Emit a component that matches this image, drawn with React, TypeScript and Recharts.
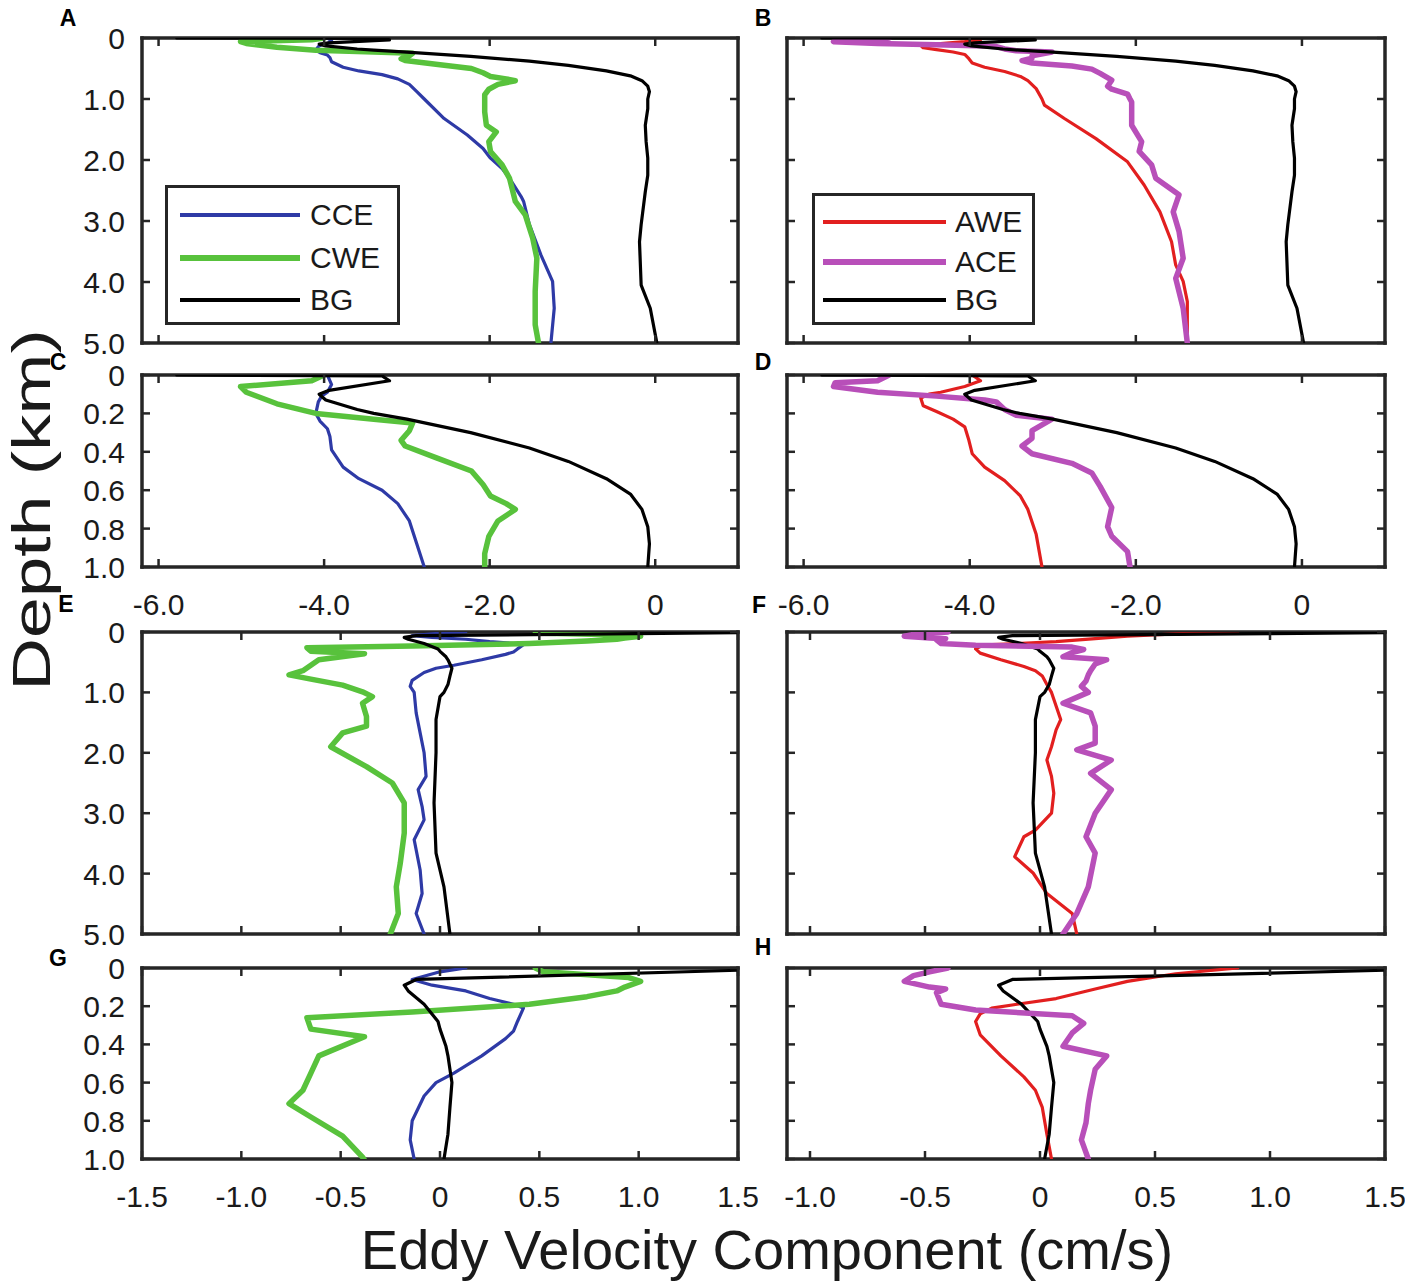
import { ScatterChart, Scatter, XAxis, YAxis } from "recharts";

const FONT = '"Liberation Sans", Arial, Helvetica, sans-serif';
const FRAME = "#262626";
const TEXT = "#1a1a1a";

// colours of the eddy classes
const BLUE = "#2e3aa6";
const GREEN = "#58c23c";
const RED = "#e21f1f";
const MAGENTA = "#b84fb9";
const BLACK = "#000000";

// axis ticks
const WIDE_X_DOMAIN = [-6.2, 1];
const WIDE_X_TICKS = [-6, -4, -2, 0];
const LEFT_X_DOMAIN = [-1.5, 1.5];
const LEFT_X_TICKS = [-1.5, -1, -0.5, 0, 0.5, 1, 1.5];
const RIGHT_X_DOMAIN = [-1.1, 1.5];
const RIGHT_X_TICKS = [-1, -0.5, 0, 0.5, 1, 1.5];
const DEEP_Y_TICKS = [0, 1, 2, 3, 4, 5];
const SHALLOW_Y_TICKS = [0, 0.2, 0.4, 0.6, 0.8, 1];

// ---- profiles used by panels A-D (depth in km, velocity in cm/s) ----
const cceTopDepth = [0, 0.05, 0.09, 0.11, 0.14, 0.2, 0.24, 0.28, 0.32, 0.39, 0.48, 0.54, 0.6, 0.67, 0.76, 0.88, 1.0, 1.32, 1.59, 1.81, 1.97, 2.14, 2.3, 2.6, 2.68, 3.06, 3.56, 3.99, 4.43, 5.0];
const cceTopVel = [-3.96, -3.91, -3.96, -4.03, -4.07, -4.1, -4.05, -3.96, -3.93, -3.91, -3.77, -3.58, -3.3, -3.11, -2.97, -2.88, -2.79, -2.55, -2.27, -2.08, -1.99, -1.85, -1.76, -1.62, -1.59, -1.52, -1.38, -1.24, -1.22, -1.26];

const cweTopDepth = [0, 0.03, 0.06, 0.09, 0.15, 0.2, 0.23, 0.25, 0.29, 0.34, 0.37, 0.43, 0.5, 0.57, 0.63, 0.67, 0.7, 0.76, 0.84, 0.93, 1.0, 1.21, 1.43, 1.54, 1.7, 1.86, 2.08, 2.3, 2.68, 2.9, 3.28, 3.61, 4.15, 4.7, 5.0];
const cweTopVel = [-4.0, -4.15, -5.01, -4.94, -4.57, -4.1, -3.4, -2.93, -2.97, -3.07, -3.02, -2.65, -2.22, -2.08, -1.99, -1.8, -1.69, -1.9, -2.01, -2.06, -2.06, -2.06, -2.04, -1.92, -2.01, -1.99, -1.85, -1.76, -1.69, -1.57, -1.48, -1.43, -1.45, -1.45, -1.41];

const bgTopDepth = [0, 0.005, 0.03, 0.08, 0.1, 0.13, 0.18, 0.2, 0.23, 0.3, 0.38, 0.45, 0.54, 0.62, 0.7, 0.79, 0.88, 1.0, 1.16, 1.43, 1.7, 1.97, 2.25, 2.52, 3.06, 3.34, 4.05, 4.43, 5.0];
const bgTopVel = [-5.78, -3.3, -3.21, -3.94, -4.06, -3.98, -3.6, -3.4, -3.0, -2.23, -1.52, -1.05, -0.59, -0.3, -0.16, -0.09, -0.07, -0.09, -0.09, -0.12, -0.11, -0.09, -0.09, -0.12, -0.17, -0.19, -0.17, -0.06, 0.02];

const aweTopDepth = [0, 0.03, 0.06, 0.09, 0.1, 0.12, 0.16, 0.19, 0.23, 0.27, 0.34, 0.41, 0.48, 0.55, 0.63, 0.7, 0.83, 1.0, 1.1, 1.32, 1.65, 2.03, 2.41, 2.85, 3.34, 3.72, 3.99, 4.32, 5.0];
const aweTopVel = [-3.97, -3.87, -4.06, -4.35, -4.49, -4.59, -4.56, -4.4, -4.2, -4.06, -4.01, -3.97, -3.82, -3.58, -3.39, -3.3, -3.2, -3.13, -3.1, -2.86, -2.48, -2.1, -1.9, -1.71, -1.57, -1.52, -1.43, -1.38, -1.38];

const aceTopDepth = [0, 0.03, 0.04, 0.06, 0.09, 0.11, 0.13, 0.14, 0.18, 0.21, 0.23, 0.29, 0.33, 0.37, 0.41, 0.46, 0.51, 0.58, 0.69, 0.79, 0.84, 0.92, 1.0, 1.05, 1.43, 1.7, 1.86, 2.08, 2.3, 2.57, 2.85, 3.17, 3.61, 3.94, 4.43, 5.0];
const aceTopVel = [-4.97, -5.11, -5.62, -5.64, -5.11, -4.4, -3.82, -3.68, -3.58, -3.44, -3.01, -3.25, -3.25, -3.37, -3.25, -2.77, -2.53, -2.43, -2.29, -2.34, -2.29, -2.1, -2.07, -2.05, -2.05, -1.93, -1.96, -1.81, -1.76, -1.48, -1.55, -1.48, -1.43, -1.52, -1.43, -1.38];

// ---- profiles used by panels E-H ----
const cceBotDepth = [0, 0.02, 0.06, 0.09, 0.12, 0.16, 0.19, 0.21, 0.28, 0.33, 0.37, 0.46, 0.55, 0.6, 0.67, 0.8, 0.9, 1.0, 1.34, 1.67, 2.0, 2.39, 2.61, 2.89, 3.11, 3.44, 3.94, 4.33, 4.66, 5.0];
const cceBotVel = [0.13, 0.0, -0.14, -0.04, 0.13, 0.25, 0.37, 0.42, 0.39, 0.37, 0.33, 0.21, 0.07, -0.02, -0.08, -0.14, -0.15, -0.13, -0.12, -0.1, -0.08, -0.07, -0.11, -0.09, -0.08, -0.13, -0.1, -0.09, -0.12, -0.08];

const cweBotDepth = [0, 0.02, 0.05, 0.07, 0.1, 0.12, 0.15, 0.19, 0.23, 0.26, 0.32, 0.36, 0.46, 0.55, 0.64, 0.71, 0.78, 0.88, 0.99, 1.07, 1.18, 1.4, 1.56, 1.67, 1.9, 2.23, 2.5, 2.83, 3.33, 3.83, 4.22, 4.66, 5.0];
const cweBotVel = [0.48, 0.52, 0.95, 1.01, 0.93, 0.89, 0.74, 0.45, -0.14, -0.67, -0.65, -0.38, -0.61, -0.65, -0.69, -0.76, -0.65, -0.49, -0.39, -0.34, -0.39, -0.37, -0.37, -0.49, -0.55, -0.37, -0.24, -0.18, -0.18, -0.2, -0.22, -0.21, -0.25];

const bgBotDepth = [0, 0.06, 0.09, 0.12, 0.19, 0.28, 0.32, 0.41, 0.46, 0.53, 0.6, 0.73, 0.87, 1.0, 1.07, 1.45, 2.0, 2.83, 3.66, 4.22, 5.0];
const bgBotVel = [1.9, -0.12, -0.18, -0.16, -0.08, -0.01, 0.0, 0.03, 0.04, 0.05, 0.06, 0.05, 0.04, 0.02, 0.0, -0.02, -0.02, -0.03, -0.02, 0.02, 0.05];

const aweBotDepth = [0, 0.03, 0.07, 0.11, 0.16, 0.19, 0.21, 0.24, 0.28, 0.35, 0.46, 0.57, 0.64, 0.73, 0.87, 1.0, 1.45, 1.62, 1.9, 2.12, 2.39, 2.67, 3.0, 3.28, 3.39, 3.72, 3.99, 4.33, 4.66, 5.0];
const aweBotVel = [0.86, 0.59, 0.38, 0.24, 0.07, -0.1, -0.21, -0.26, -0.28, -0.26, -0.17, -0.07, -0.02, 0.01, 0.03, 0.05, 0.09, 0.07, 0.05, 0.03, 0.05, 0.06, 0.05, -0.02, -0.07, -0.11, -0.03, 0.03, 0.14, 0.16];

const aceBotDepth = [0, 0.02, 0.04, 0.07, 0.1, 0.11, 0.13, 0.19, 0.22, 0.25, 0.29, 0.34, 0.41, 0.46, 0.53, 0.64, 0.71, 0.81, 0.9, 1.0, 1.18, 1.34, 1.56, 1.84, 1.95, 2.12, 2.34, 2.61, 3.0, 3.39, 3.66, 4.22, 4.66, 5.0];
const aceBotVel = [-0.4, -0.48, -0.55, -0.59, -0.48, -0.41, -0.45, -0.43, -0.28, 0.14, 0.19, 0.14, 0.1, 0.29, 0.24, 0.22, 0.21, 0.2, 0.18, 0.21, 0.1, 0.22, 0.24, 0.24, 0.16, 0.31, 0.22, 0.31, 0.24, 0.2, 0.24, 0.21, 0.16, 0.1];

type Series = { name: string; color: string; width: number; depth: number[]; vel: number[] };

const cyclonicTop: Series[] = [
  { name: "CCE", color: BLUE, width: 3.2, depth: cceTopDepth, vel: cceTopVel },
  { name: "CWE", color: GREEN, width: 5.5, depth: cweTopDepth, vel: cweTopVel },
  { name: "BG", color: BLACK, width: 3.2, depth: bgTopDepth, vel: bgTopVel },
];
const anticycTop: Series[] = [
  { name: "AWE", color: RED, width: 3.2, depth: aweTopDepth, vel: aweTopVel },
  { name: "ACE", color: MAGENTA, width: 5.5, depth: aceTopDepth, vel: aceTopVel },
  { name: "BG", color: BLACK, width: 3.2, depth: bgTopDepth, vel: bgTopVel },
];
const cyclonicBot: Series[] = [
  { name: "CCE", color: BLUE, width: 3.2, depth: cceBotDepth, vel: cceBotVel },
  { name: "CWE", color: GREEN, width: 5.5, depth: cweBotDepth, vel: cweBotVel },
  { name: "BG", color: BLACK, width: 3.2, depth: bgBotDepth, vel: bgBotVel },
];
const anticycBot: Series[] = [
  { name: "AWE", color: RED, width: 3.2, depth: aweBotDepth, vel: aweBotVel },
  { name: "BG", color: BLACK, width: 3.2, depth: bgBotDepth, vel: bgBotVel },
  { name: "ACE", color: MAGENTA, width: 5.5, depth: aceBotDepth, vel: aceBotVel },
];

const fmt = (v: number) => (v === 0 ? "0" : v.toFixed(1));
const toPoints = (s: Series) => s.depth.map((d, i) => ({ d, v: s.vel[i] }));

// space around each plot box, the axes themselves take 1px
const PAD = { left: 120, right: 20, top: 20, bottom: 70 };
const axisLine = { stroke: FRAME, strokeWidth: 3.5, strokeLinecap: "square" as const };

function XTick(props: any) {
  const { x, y, payload, label, top } = props;
  const dir = top ? 1 : -1;
  return (
    <g>
      <line x1={x} x2={x} y1={y} y2={y + dir * 8} stroke={FRAME} strokeWidth={2.5} />
      {label && (
        <text x={x} y={y + 48} textAnchor="middle" fontSize={30} fontFamily={FONT} fill={TEXT}>
          {fmt(payload.value)}
        </text>
      )}
    </g>
  );
}

function YTick(props: any) {
  const { x, y, payload, label, right } = props;
  const dir = right ? -1 : 1;
  return (
    <g>
      <line x1={x} x2={x + dir * 8} y1={y} y2={y} stroke={FRAME} strokeWidth={2.5} />
      {label && (
        <text x={x - 17} y={y + 11} textAnchor="end" fontSize={30} fontFamily={FONT} fill={TEXT}>
          {fmt(payload.value)}
        </text>
      )}
    </g>
  );
}

type Box = { left: number; top: number; w: number; h: number };

function Legend({ series, box }: { series: Series[]; box: any }) {
  return (
    <div
      style={{
        position: "absolute",
        left: box.left,
        top: box.top,
        width: box.w,
        height: box.h,
        border: `3px solid ${FRAME}`,
        background: "#fff",
        boxSizing: "border-box",
      }}
    >
      {series.map((s, i) => (
        <div key={s.name} style={{ position: "absolute", left: 0, top: box.rows[i], width: "100%" }}>
          <div
            style={{
              position: "absolute",
              left: box.lineLeft,
              width: box.lineW,
              top: -(s.width + 1) / 2,
              height: s.width + 1,
              background: s.color,
            }}
          />
          <div
            style={{
              position: "absolute",
              left: box.textLeft,
              top: -18,
              fontSize: 30,
              lineHeight: "36px",
              fontFamily: FONT,
              color: TEXT,
            }}
          >
            {s.name}
          </div>
        </div>
      ))}
    </div>
  );
}

function Panel({
  box,
  xDomain,
  xTicks,
  yDomain,
  yTicks,
  series,
  xLabels,
  yLabels,
}: {
  box: Box;
  xDomain: number[];
  xTicks: number[];
  yDomain: number[];
  yTicks: number[];
  series: Series[];
  xLabels: boolean;
  yLabels: boolean;
}) {
  const width = box.w + PAD.left + PAD.right;
  const height = box.h + PAD.top + PAD.bottom;
  const margin = { left: PAD.left - 1, right: PAD.right - 1, top: PAD.top - 1, bottom: PAD.bottom - 1 };
  return (
    <div style={{ position: "absolute", left: box.left - PAD.left, top: box.top - PAD.top }}>
      <ScatterChart width={width} height={height} margin={margin}>
        {series.map((s) => (
          <Scatter
            key={s.name}
            name={s.name}
            data={toPoints(s)}
            xAxisId="b"
            yAxisId="l"
            fill={s.color}
            line={{ stroke: s.color, strokeWidth: s.width, strokeLinejoin: "round", strokeLinecap: "round" }}
            shape={() => <g />}
            isAnimationActive={false}
          />
        ))}
        <XAxis
          xAxisId="b"
          type="number"
          dataKey="v"
          orientation="bottom"
          domain={xDomain}
          ticks={xTicks}
          allowDataOverflow
          height={1}
          tickSize={0}
          tickMargin={0}
          tickLine={false}
          interval={0}
          axisLine={axisLine}
          tick={(p: any) => <XTick {...p} label={xLabels} />}
        />
        <XAxis
          xAxisId="t"
          type="number"
          dataKey="v"
          orientation="top"
          domain={xDomain}
          ticks={xTicks}
          allowDataOverflow
          height={1}
          tickSize={0}
          tickMargin={0}
          tickLine={false}
          interval={0}
          axisLine={axisLine}
          tick={(p: any) => <XTick {...p} top />}
        />
        <YAxis
          yAxisId="l"
          type="number"
          dataKey="d"
          orientation="left"
          reversed
          domain={yDomain}
          ticks={yTicks}
          allowDataOverflow
          width={1}
          tickSize={0}
          tickMargin={0}
          tickLine={false}
          interval={0}
          axisLine={axisLine}
          tick={(p: any) => <YTick {...p} label={yLabels} />}
        />
        <YAxis
          yAxisId="r"
          type="number"
          dataKey="d"
          orientation="right"
          reversed
          domain={yDomain}
          ticks={yTicks}
          allowDataOverflow
          width={1}
          tickSize={0}
          tickMargin={0}
          tickLine={false}
          interval={0}
          axisLine={axisLine}
          tick={(p: any) => <YTick {...p} right />}
        />
      </ScatterChart>
    </div>
  );
}

const LETTERS = [
  { t: "A", x: 68, y: 18 },
  { t: "B", x: 763, y: 18 },
  { t: "C", x: 58, y: 362 },
  { t: "D", x: 763, y: 362 },
  { t: "E", x: 66, y: 604 },
  { t: "F", x: 759, y: 605 },
  { t: "G", x: 58, y: 958 },
  { t: "H", x: 763, y: 947 },
];

export default function App() {
  const L = { left: 142, w: 596 };
  const R = { left: 787, w: 598 };
  return (
    <div
      style={{
        position: "absolute",
        left: 0,
        top: 0,
        width: 1412,
        height: 1283,
        background: "#fff",
        overflow: "hidden",
        fontFamily: FONT,
      }}
    >
      <Panel box={{ ...L, top: 38, h: 305 }} xDomain={WIDE_X_DOMAIN} xTicks={WIDE_X_TICKS} yDomain={[0, 5]} yTicks={DEEP_Y_TICKS} series={cyclonicTop} xLabels={false} yLabels />
      <Panel box={{ ...R, top: 38, h: 305 }} xDomain={WIDE_X_DOMAIN} xTicks={WIDE_X_TICKS} yDomain={[0, 5]} yTicks={DEEP_Y_TICKS} series={anticycTop} xLabels={false} yLabels={false} />
      <Panel box={{ ...L, top: 375, h: 192 }} xDomain={WIDE_X_DOMAIN} xTicks={WIDE_X_TICKS} yDomain={[0, 1]} yTicks={SHALLOW_Y_TICKS} series={cyclonicTop} xLabels yLabels />
      <Panel box={{ ...R, top: 375, h: 192 }} xDomain={WIDE_X_DOMAIN} xTicks={WIDE_X_TICKS} yDomain={[0, 1]} yTicks={SHALLOW_Y_TICKS} series={anticycTop} xLabels yLabels={false} />
      <Panel box={{ ...L, top: 632, h: 302 }} xDomain={LEFT_X_DOMAIN} xTicks={LEFT_X_TICKS} yDomain={[0, 5]} yTicks={DEEP_Y_TICKS} series={cyclonicBot} xLabels={false} yLabels />
      <Panel box={{ ...R, top: 632, h: 302 }} xDomain={RIGHT_X_DOMAIN} xTicks={RIGHT_X_TICKS} yDomain={[0, 5]} yTicks={DEEP_Y_TICKS} series={anticycBot} xLabels={false} yLabels={false} />
      <Panel box={{ ...L, top: 968, h: 191 }} xDomain={LEFT_X_DOMAIN} xTicks={LEFT_X_TICKS} yDomain={[0, 1]} yTicks={SHALLOW_Y_TICKS} series={cyclonicBot} xLabels yLabels />
      <Panel box={{ ...R, top: 968, h: 191 }} xDomain={RIGHT_X_DOMAIN} xTicks={RIGHT_X_TICKS} yDomain={[0, 1]} yTicks={SHALLOW_Y_TICKS} series={anticycBot} xLabels yLabels={false} />

      <Legend
        series={cyclonicTop}
        box={{ left: 165, top: 185, w: 235, h: 140, rows: [27, 70, 112], lineLeft: 12, lineW: 120, textLeft: 142 }}
      />
      <Legend
        series={anticycTop}
        box={{ left: 812, top: 193, w: 223, h: 132, rows: [26, 66, 104], lineLeft: 8, lineW: 123, textLeft: 140 }}
      />

      {LETTERS.map((l) => (
        <div
          key={l.t}
          style={{
            position: "absolute",
            left: l.x,
            top: l.y,
            transform: "translate(-50%, -50%)",
            fontWeight: "bold",
            fontSize: 23,
            color: "#000",
          }}
        >
          {l.t}
        </div>
      ))}

      <div
        style={{
          position: "absolute",
          left: 31,
          top: 510,
          transform: "translate(-50%, -50%) rotate(-90deg) scaleX(1.38)",
          fontSize: 53,
          lineHeight: "53px",
          whiteSpace: "nowrap",
          color: TEXT,
        }}
      >
        Depth (km)
      </div>
      <div
        style={{
          position: "absolute",
          left: 767,
          top: 1250,
          transform: "translate(-50%, -50%)",
          fontSize: 56,
          lineHeight: "60px",
          whiteSpace: "nowrap",
          color: TEXT,
        }}
      >
        Eddy Velocity Component (cm/s)
      </div>
    </div>
  );
}
